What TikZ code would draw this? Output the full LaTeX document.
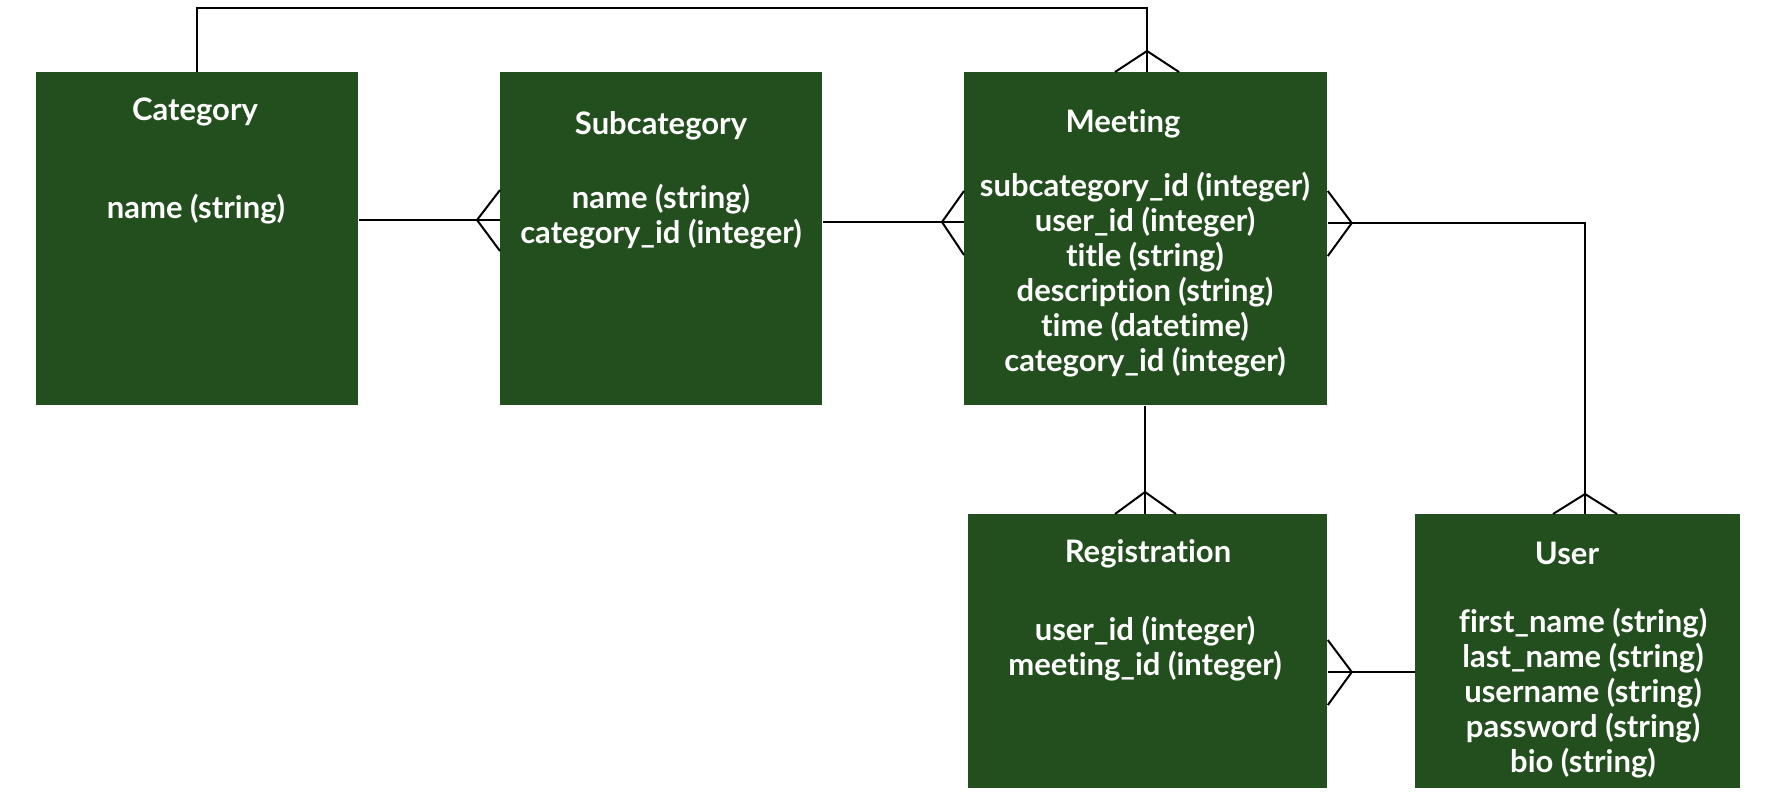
\documentclass[tikz,border=0pt]{standalone}
\usepackage{fontspec}
\setmainfont{Lato}[Ligatures={NoCommon,NoRare}]
\usetikzlibrary{calc}
\definecolor{boxgreen}{RGB}{35,79,30}
\tikzset{
  entity/.style={fill=boxgreen, draw=none, anchor=north west, inner sep=0pt},
  etext/.style={text=white, font=\fontsize{15.5}{17.5}\selectfont\bfseries, align=center, inner sep=0pt},
  rel/.style={draw=black, line width=1pt},
}
\begin{document}
\begin{tikzpicture}[x=0.5pt, y=-0.5pt]
\useasboundingbox (0,0) rectangle (1782,800);
% entities
\node[entity, minimum width=161pt, minimum height=166.5pt] (cat) at (36,72) {};
\node[entity, minimum width=161pt, minimum height=166.5pt] (sub) at (500,72) {};
\node[entity, minimum width=181.5pt, minimum height=166.5pt] (meet) at (964,72) {};
\node[entity, minimum width=179.5pt, minimum height=137pt] (reg) at (968,514) {};
\node[entity, minimum width=162.5pt, minimum height=137pt] (user) at (1415,514) {};
% texts
\node[etext] (catT) at (195,112) {Category};
\node[etext] (catF) at (196,209) {name (string)};
\node[etext] (subT) at (661,126) {Subcategory};
\node[etext] (subF) at (661,217) {name (string)\\category\_id (integer)};
\node[etext] (meetT) at (1123,124) {Meeting};
\node[etext] (meetF) at (1145,275) {subcategory\_id (integer)\\user\_id (integer)\\title (string)\\description (string)\\time (datetime)\\category\_id (integer)};
\node[etext] (regT) at (1148,554) {Registration};
\node[etext] (regF) at (1145,649) {user\_id (integer)\\meeting\_id (integer)};
\node[etext] (userT) at (1567,553) {User};
\node[etext] (userF) at (1583,693) {first\_name (string)\\last\_name (string)\\username (string)\\password (string)\\bio (string)};
% connector points
\coordinate (top1) at (197,8);
\coordinate (top2) at (1147,8);
\coordinate (meetR) at (1585,223);
% Category -- Meeting (top)
\draw[rel] (cat.north -| top1) -- (top1) -- (top2) -- (meet.north -| top2);
\draw[rel] ($(meet.north -| top2)+(-32,0)$) -- ($(meet.north -| top2)+(0,-21)$) -- ($(meet.north -| top2)+(32,0)$);
% Category -- Subcategory
\draw[rel] (cat.east |- 0,220) -- (sub.west |- 0,220);
\draw[rel] ($(sub.west |- 0,220)+(0,-30)$) -- ($(sub.west |- 0,220)+(-23,0)$) -- ($(sub.west |- 0,220)+(0,31)$);
% Subcategory -- Meeting
\draw[rel] (sub.east |- 0,222) -- (meet.west |- 0,222);
\draw[rel] ($(meet.west |- 0,222)+(0,-31)$) -- ($(meet.west |- 0,222)+(-22,0)$) -- ($(meet.west |- 0,222)+(0,33)$);
% Meeting -- User
\draw[rel] (meet.east |- meetR) -- (meetR) -- (user.north -| meetR);
\draw[rel] ($(meet.east |- meetR)+(0,-32)$) -- ($(meet.east |- meetR)+(24,0)$) -- ($(meet.east |- meetR)+(0,33)$);
\draw[rel] ($(user.north -| meetR)+(-32,0)$) -- ($(user.north -| meetR)+(0,-20)$) -- ($(user.north -| meetR)+(32,0)$);
% Meeting -- Registration
\draw[rel] (meet.south -| 1145,0) -- (reg.north -| 1145,0);
\draw[rel] ($(reg.north -| 1145,0)+(-30,0)$) -- ($(reg.north -| 1145,0)+(0,-22)$) -- ($(reg.north -| 1145,0)+(31,0)$);
% Registration -- User
\draw[rel] (reg.east |- 0,672) -- (user.west |- 0,672);
\draw[rel] ($(reg.east |- 0,672)+(0,-32)$) -- ($(reg.east |- 0,672)+(24,0)$) -- ($(reg.east |- 0,672)+(0,33)$);
\end{tikzpicture}
\end{document}
